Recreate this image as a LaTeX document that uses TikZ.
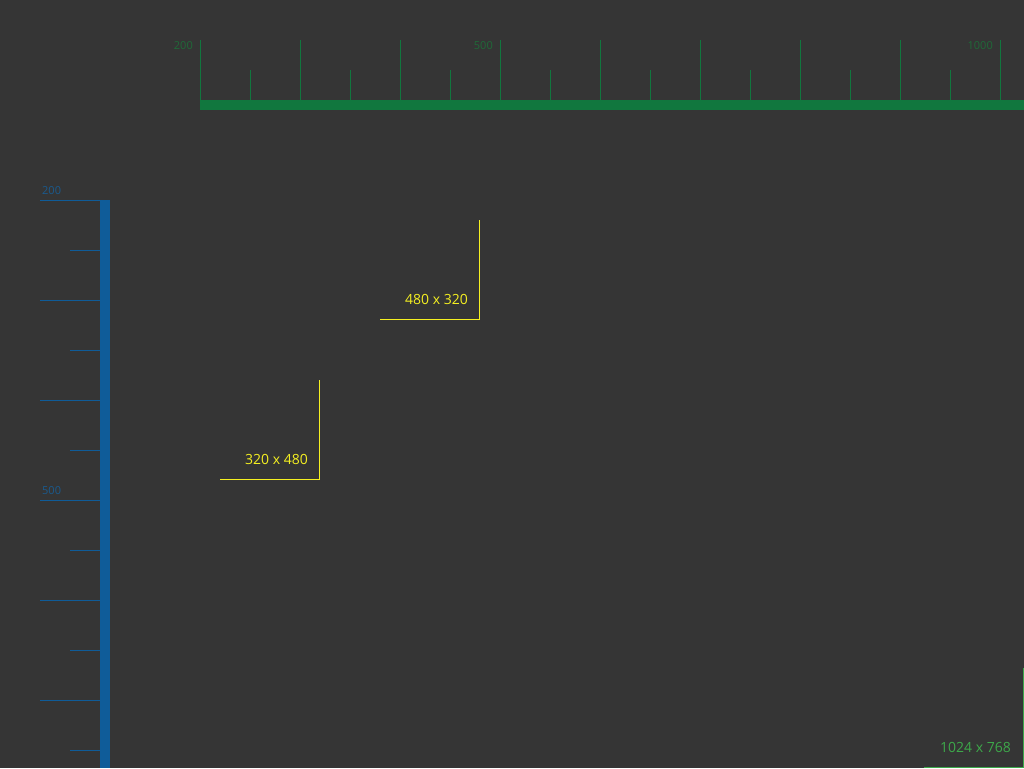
\documentclass[tikz,border=0pt]{standalone}
\usepackage{fontspec}
\setmainfont{Open Sans}
\usepackage{xcolor}
\usetikzlibrary{positioning,backgrounds}
\definecolor{bgDark}{HTML}{353535}
\definecolor{rulG}{HTML}{11773E}
\definecolor{txtG}{HTML}{1F6A38}
\definecolor{rulB}{HTML}{0F5C99}
\definecolor{txtB}{HTML}{1A5A8E}
\definecolor{yelL}{HTML}{F5F021}
\definecolor{grnL}{HTML}{3DA84A}

\tikzset{
  tick/.style={line width=1pt},
  corner/.style={line width=1pt},
  rulelabel/.style={inner sep=0pt, font=\fontsize{11}{13}\selectfont},
  sizelabel/.style={inner sep=0pt, anchor=base east, font=\fontsize{14}{16}\selectfont}
}

\begin{document}
\begin{tikzpicture}[x=1pt,y=-1pt]
  \fill[bgDark] (0,0) rectangle (1024,768);
  \useasboundingbox (0,0) rectangle (1024,768);

  % top ruler
  \fill[rulG] (200,100) rectangle (1024,110);
  \foreach \x in {200,300,...,1000} {
    \draw[tick, rulG] (\x,40) -- (\x,100);
  }
  \foreach \x in {250,350,...,950} {
    \draw[tick, rulG] (\x,70) -- (\x,100);
  }
  \node[rulelabel, text=txtG, anchor=base east] (h200) at (193,49) {200};
  \node[rulelabel, text=txtG, anchor=base east] (h500) at (493,49) {500};
  \node[rulelabel, text=txtG, anchor=base east] (h1000) at (993,49) {1000};

  % left ruler
  \fill[rulB] (100,200) rectangle (110,768);
  \foreach \y in {200,300,...,700} {
    \draw[tick, rulB] (40,\y) -- (100,\y);
  }
  \foreach \y in {250,350,...,750} {
    \draw[tick, rulB] (70,\y) -- (100,\y);
  }
  \node[rulelabel, text=txtB, anchor=base west] (v200) at (42,194) {200};
  \node[rulelabel, text=txtB, anchor=base west] (v500) at (42,494) {500};

  % size corners
  \coordinate (landTop) at (479,220);
  \coordinate (landCrn) at (479,319);
  \coordinate (landEnd) at (380,319);
  \draw[corner, yelL] (landTop) -- (landCrn) -- (landEnd);
  \node[sizelabel, text=yelL] (land) at (468,304) {480 x 320};

  \coordinate (portTop) at (319,380);
  \coordinate (portCrn) at (319,479);
  \coordinate (portEnd) at (220,479);
  \draw[corner, yelL] (portTop) -- (portCrn) -- (portEnd);
  \node[sizelabel, text=yelL] (port) at (308,464) {320 x 480};

  \coordinate (fullTop) at (1023,668);
  \coordinate (fullCrn) at (1023,767.4);
  \coordinate (fullEnd) at (924,767.4);
  \draw[corner, grnL] (fullTop) -- (fullCrn) -- (fullEnd);
  \node[sizelabel, text=grnL] (full) at (1011,752) {1024 x 768};
\end{tikzpicture}
\end{document}
